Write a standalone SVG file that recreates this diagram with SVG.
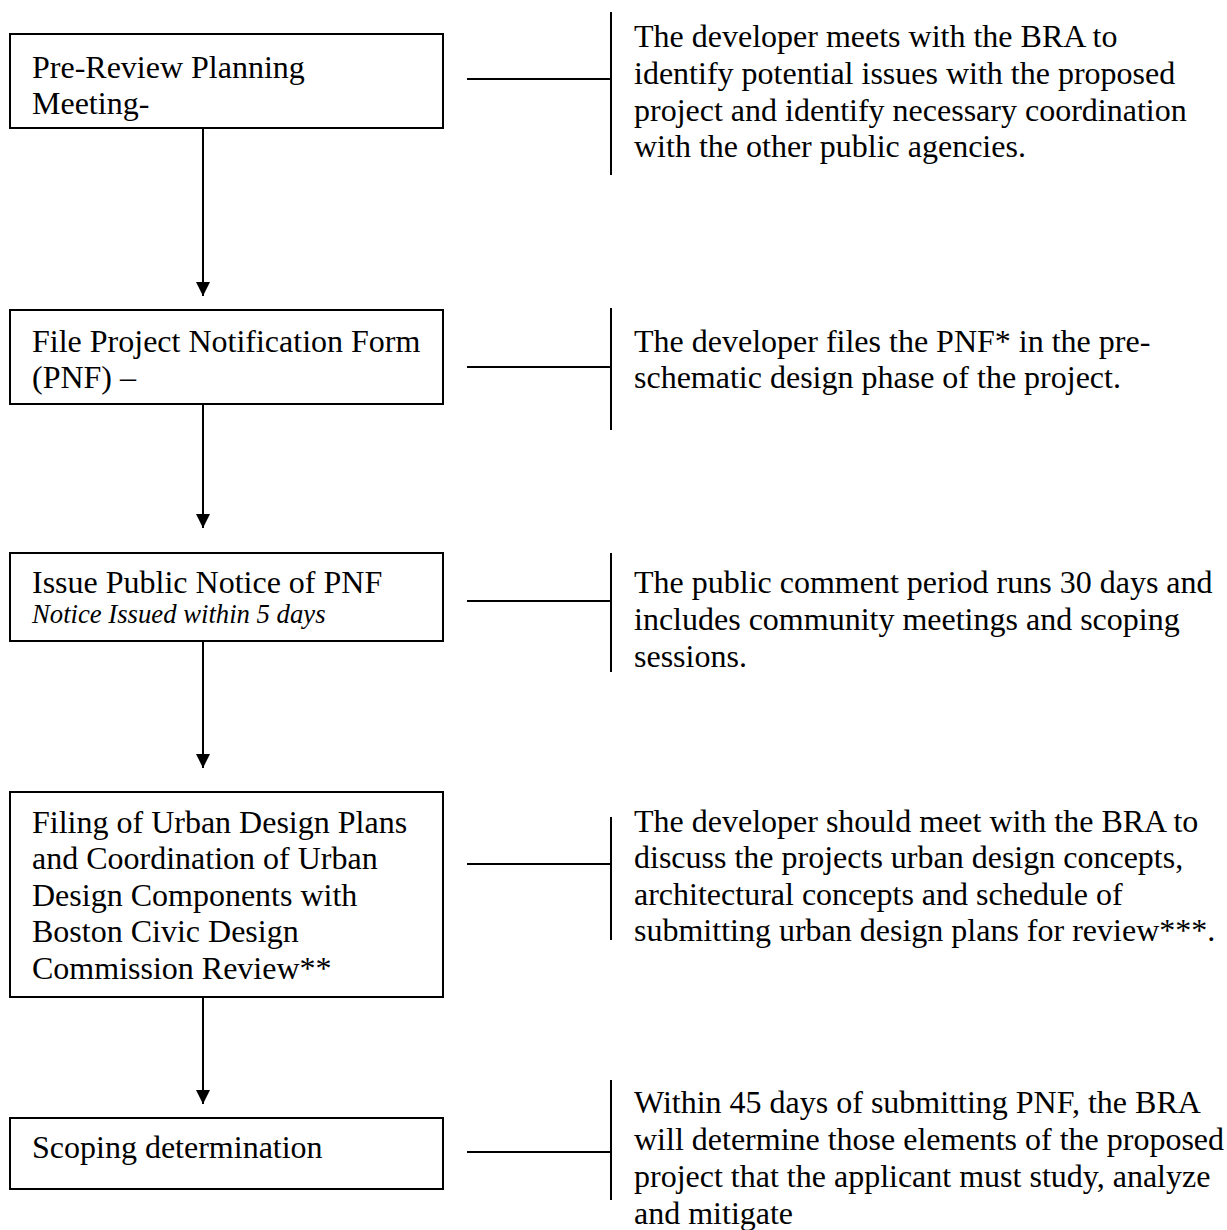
<svg xmlns="http://www.w3.org/2000/svg" width="1227" height="1230" viewBox="0 0 1227 1230">
<defs>
<style>
.box{fill:#fff;stroke:#000;stroke-width:2}
.ln{stroke:#000;stroke-width:2;fill:none}
.t{font-family:"Liberation Serif","Times New Roman",serif;font-size:32px;fill:#000}
.it{font-family:"Liberation Serif","Times New Roman",serif;font-size:26.7px;font-style:italic;fill:#000}
</style>
<marker id="ah" viewBox="0 0 14 16" refX="14" refY="8" markerWidth="14" markerHeight="16" markerUnits="userSpaceOnUse" orient="auto">
<path d="M0,1 L14,8 L0,15 Z" fill="#000"/>
</marker>
</defs>
<rect width="1227" height="1230" fill="#fff"/>
<g id="connectors">
<line class="ln" x1="203" y1="128" x2="203" y2="296" marker-end="url(#ah)"/>
<line class="ln" x1="203" y1="404" x2="203" y2="528" marker-end="url(#ah)"/>
<line class="ln" x1="203" y1="641" x2="203" y2="768" marker-end="url(#ah)"/>
<line class="ln" x1="203" y1="997" x2="203" y2="1104" marker-end="url(#ah)"/>
<line class="ln" x1="467" y1="79" x2="611" y2="79"/>
<line class="ln" x1="611" y1="12" x2="611" y2="175"/>
<line class="ln" x1="467" y1="367" x2="611" y2="367"/>
<line class="ln" x1="611" y1="308" x2="611" y2="430"/>
<line class="ln" x1="467" y1="601" x2="611" y2="601"/>
<line class="ln" x1="611" y1="553" x2="611" y2="672"/>
<line class="ln" x1="467" y1="864" x2="611" y2="864"/>
<line class="ln" x1="611" y1="817" x2="611" y2="940"/>
<line class="ln" x1="467" y1="1152" x2="611" y2="1152"/>
<line class="ln" x1="611" y1="1080" x2="611" y2="1200"/>
</g>
<g id="n1">
<rect class="box" x="10" y="34" width="433" height="94"/>
<text class="t" x="32" y="78">Pre-Review Planning</text>
<text class="t" x="32" y="114">Meeting-</text>
</g>
<g id="n1note">
<text class="t" x="634" y="47">The developer meets with the BRA to</text>
<text class="t" x="634" y="84">identify potential issues with the proposed</text>
<text class="t" x="634" y="121">project and identify necessary coordination</text>
<text class="t" x="634" y="157">with the other public agencies.</text>
</g>
<g id="n2">
<rect class="box" x="10" y="310" width="433" height="94"/>
<text class="t" x="32" y="352">File Project Notification Form</text>
<text class="t" x="32" y="388">(PNF) –</text>
</g>
<g id="n2note">
<text class="t" x="634" y="352">The developer files the PNF* in the pre-</text>
<text class="t" x="634" y="388">schematic design phase of the project.</text>
</g>
<g id="n3">
<rect class="box" x="10" y="553" width="433" height="88"/>
<text class="t" x="32" y="593">Issue Public Notice of PNF</text>
<text class="it" x="32" y="623">Notice Issued within 5 days</text>
</g>
<g id="n3note">
<text class="t" x="634" y="593">The public comment period runs 30 days and</text>
<text class="t" x="634" y="630">includes community meetings and scoping</text>
<text class="t" x="634" y="667">sessions.</text>
</g>
<g id="n4">
<rect class="box" x="10" y="792" width="433" height="205"/>
<text class="t" x="32" y="833">Filing of Urban Design Plans</text>
<text class="t" x="32" y="869">and Coordination of Urban</text>
<text class="t" x="32" y="906">Design Components with</text>
<text class="t" x="32" y="942">Boston Civic Design</text>
<text class="t" x="32" y="979">Commission Review**</text>
</g>
<g id="n4note">
<text class="t" x="634" y="832">The developer should meet with the BRA to</text>
<text class="t" x="634" y="868">discuss the projects urban design concepts,</text>
<text class="t" x="634" y="905">architectural concepts and schedule of</text>
<text class="t" x="634" y="941">submitting urban design plans for review***.</text>
</g>
<g id="n5">
<rect class="box" x="10" y="1118" width="433" height="71"/>
<text class="t" x="32" y="1158">Scoping determination</text>
</g>
<g id="n5note">
<text class="t" x="634" y="1113">Within 45 days of submitting PNF, the BRA</text>
<text class="t" x="634" y="1150">will determine those elements of the proposed</text>
<text class="t" x="634" y="1187">project that the applicant must study, analyze</text>
<text class="t" x="634" y="1224">and mitigate</text>
</g>
</svg>
